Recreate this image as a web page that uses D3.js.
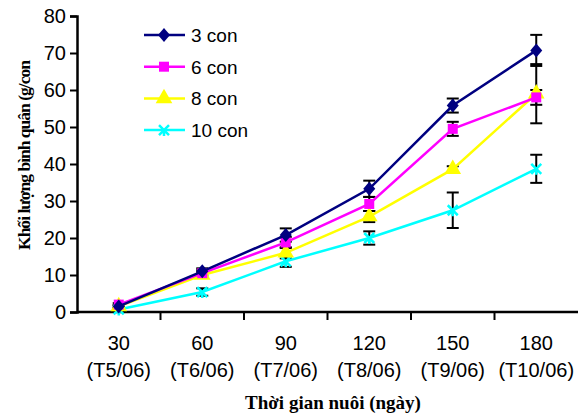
<!DOCTYPE html>
<html lang="vi">
<head>
<meta charset="UTF-8">
<title>Khối lượng bình quân</title>
<script src="https://d3js.org/d3.v7.min.js"></script>
<style>
body { margin: 0; background: #fff; }
svg { display: block; }
</style>
</head>
<body>
<svg width="580" height="418"></svg>
<script>
var days = ['30', '60', '90', '120', '150', '180'];
var months = ['(T5/06)', '(T6/06)', '(T7/06)', '(T8/06)', '(T9/06)', '(T10/06)'];
var yTicks = [0, 10, 20, 30, 40, 50, 60, 70, 80];

var names = ['3 con', '6 con', '8 con', '10 con'];
var con3 = [1.5, 11, 20.8, 33.3, 55.8, 70.7];
var con6 = [2, 10.5, 18.8, 29.2, 49.5, 58];
var con8 = [1.5, 10, 16, 25.8, 38.6, 59];
var con10 = [0.7, 5.4, 13.7, 20, 27.5, 38.7];
var err3 = [0.4, 0.8, 1.8, 2.2, 1.9, 4.2];
var err6 = [0.4, 0.8, 1.5, 1.9, 1.9, 2];
var err8 = [0.4, 0.8, 1.5, 1.5, 0.8, 8];
var err10 = [0.4, 1, 1.5, 1.8, 4.8, 3.8];
var colors = ['#000080', '#ff00ff', '#ffff00', '#00ffff'];
var shapes = ['diamond', 'square', 'triangle', 'cross'];

var series = [con3, con6, con8, con10].map(function(v, i) {
    var e = [err3, err6, err8, err10][i];
    return {
        name: names[i], color: colors[i], shape: shapes[i],
        points: v.map(function(d, j) { return { day: days[j], v: d, e: e[j] }; })
    };
});

var svg = d3.select('svg');
var mLeft = 77, mRight = 578, mTop = 16, mBottom = 312;
var sans = 'Liberation Sans, Arial, sans-serif';
var serif = 'Liberation Serif, Times New Roman, serif';

var x = d3.scaleBand().domain(days).range([mLeft, mRight]).padding(0);
var y = d3.scaleLinear().domain([0, 80]).range([mBottom, mTop]);

// y axis
var yAxis = svg.append('g').attr('transform', 'translate(' + mLeft + ',0)')
    .call(d3.axisLeft(y).tickValues(yTicks).tickSize(7).tickPadding(4));
yAxis.select('.domain').attr('stroke', '#000').attr('stroke-width', 2.5);
yAxis.selectAll('.tick line').attr('stroke', '#000').attr('stroke-width', 2);
yAxis.selectAll('.tick text').attr('font-family', sans)
    .attr('font-size', 20).attr('fill', '#000');

// x axis, ticks at band edges
var xg = svg.append('g');
xg.append('line').attr('x1', mLeft).attr('x2', mRight).attr('y1', mBottom).attr('y2', mBottom)
    .attr('stroke', '#000').attr('stroke-width', 2.5);
xg.selectAll('line.tk').data(days.slice(1)).enter().append('line')
    .attr('class', 'tk')
    .attr('x1', function(d) { return x(d); }).attr('x2', function(d) { return x(d); })
    .attr('y1', mBottom).attr('y2', mBottom + 8)
    .attr('stroke', '#000').attr('stroke-width', 2);
xg.selectAll('text.day').data(days).enter().append('text')
    .attr('x', function(d) { return x(d) + x.bandwidth() / 2; })
    .attr('y', 350)
    .attr('text-anchor', 'middle')
    .attr('font-family', sans).attr('font-size', 20)
    .text(function(d) { return d; });
xg.selectAll('text.mon').data(months).enter().append('text')
    .attr('x', function(d, i) { return x(days[i]) + x.bandwidth() / 2; })
    .attr('y', 377)
    .attr('text-anchor', 'middle')
    .attr('font-family', sans).attr('font-size', 20)
    .text(function(d) { return d; });

// titles
svg.append('text')
    .attr('x', 333).attr('y', 409)
    .attr('text-anchor', 'middle')
    .attr('font-family', serif)
    .attr('font-weight', 'bold').attr('font-size', 19)
    .text('Thời gian nuôi (ngày)');
svg.append('text')
    .attr('transform', 'translate(30,155) rotate(-90)')
    .attr('text-anchor', 'middle')
    .attr('font-family', serif)
    .attr('font-weight', 'bold').attr('font-size', 17.5)
    .attr('textLength', 190).attr('lengthAdjust', 'spacing')
    .text('Khối lượng bình quân (g/con');

var cx = function(d) { return x(d.day) + x.bandwidth() / 2; };

// error bars, drawn first so markers sit on top
var eb = svg.append('g');
series.forEach(function(s) {
    var g = eb.append('g');
    g.selectAll('line.v').data(s.points).enter().append('line')
        .attr('x1', cx).attr('x2', cx)
        .attr('y1', function(d) { return y(d.v + d.e); })
        .attr('y2', function(d) { return y(d.v - d.e); })
        .attr('stroke', '#000').attr('stroke-width', 2);
    [1, -1].forEach(function(sg) {
        g.selectAll('line.c' + (sg > 0 ? 'p' : 'm')).data(s.points).enter().append('line')
            .attr('x1', function(d) { return cx(d) - 6; })
            .attr('x2', function(d) { return cx(d) + 6; })
            .attr('y1', function(d) { return y(d.v + sg * d.e); })
            .attr('y2', function(d) { return y(d.v + sg * d.e); })
            .attr('stroke', '#000').attr('stroke-width', 2);
    });
});

function marker(sel, shape, color) {
    if (shape === 'cross') {
        sel.append('path').attr('d', 'M-5,-5L5,5M-5,5L5,-5M0,2L0,6')
            .attr('stroke', color).attr('stroke-width', 2.5).attr('fill', 'none');
    } else if (shape === 'diamond') {
        sel.append('path').attr('d', 'M0,-7L6,0L0,7L-6,0Z').attr('fill', color);
    } else {
        var sym = shape === 'square' ? d3.symbolSquare : d3.symbolTriangle;
        var size = shape === 'square' ? 100 : 120;
        sel.append('path').attr('d', d3.symbol(sym, size)()).attr('fill', color);
    }
}

var line = d3.line().x(cx).y(function(d) { return y(d.v); });
var lg = svg.append('g');
series.slice().reverse().forEach(function(s) {
    var g = lg.append('g');
    g.append('path').datum(s.points).attr('d', line)
        .attr('fill', 'none').attr('stroke', s.color).attr('stroke-width', 2.5);
    g.selectAll('g.m').data(s.points).enter().append('g')
        .attr('transform', function(d) { return 'translate(' + cx(d) + ',' + y(d.v) + ')'; })
        .each(function() { marker(d3.select(this), s.shape, s.color); });
});

// legend
var leg = svg.append('g').selectAll('g').data(series).enter().append('g')
    .attr('transform', function(d, i) { return 'translate(144,' + (35 + i * 31.7) + ')'; });
leg.append('line').attr('x1', 0).attr('x2', 41).attr('y1', 0).attr('y2', 0)
    .attr('stroke', function(d) { return d.color; }).attr('stroke-width', 2.5);
leg.append('g').attr('transform', 'translate(20,0)')
    .each(function(d) { marker(d3.select(this), d.shape, d.color); });
leg.append('text').attr('x', 47).attr('y', 7)
    .attr('font-family', sans).attr('font-size', 19)
    .text(function(d) { return d.name; });
</script>
</body>
</html>
